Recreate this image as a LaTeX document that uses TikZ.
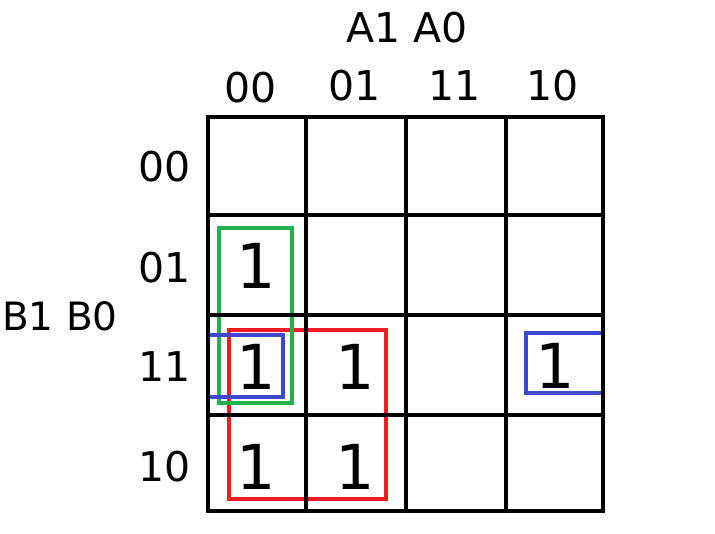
\documentclass[tikz,border=0pt]{standalone}
\usepackage{fontspec}
\setmainfont{DejaVu Sans}
\definecolor{kgreen}{RGB}{34,177,76}
\definecolor{kred}{RGB}{237,28,36}
\definecolor{kblue}{RGB}{63,72,204}
\begin{document}
\begin{tikzpicture}[x=1pt,y=-1pt,
  gridline/.style={line width=4.5pt,black},
  grp/.style={line width=4pt},
  lbl/.style={font=\fontsize{41}{41}\selectfont,inner sep=0pt},
  val/.style={font=\fontsize{62}{62}\selectfont,inner sep=0pt}]
\useasboundingbox (0,0) rectangle (715,534);
% groups
\draw[grp,kred] (229,330) rectangle (386,499);
\draw[grp,kgreen] (219,228) rectangle (292,403);
\draw[grp,kblue] (210,335) -- (283,335) -- (283,397) -- (210,397);
\draw[grp,kblue] (602,333) -- (526,333) -- (526,393) -- (602,393);
% grid
\draw[gridline] (208,117) rectangle (603,511);
\foreach \x in {306,406,506} \draw[gridline] (\x,117) -- (\x,511);
\foreach \y in {215,315,415} \draw[gridline] (208,\y) -- (603,\y);
% labels
\node[lbl] (a) at (407,28) {A1 A0};
\node[lbl,font=\fontsize{39}{39}\selectfont] (b) at (60,316) {B1 B0};
\node[lbl] (c0) at (251,88) {00};
\node[lbl] (c1) at (355,86) {01};
\node[lbl] (c2) at (455,86) {11};
\node[lbl] (c3) at (553,86) {10};
\node[lbl] (r0) at (165,167) {00};
\node[lbl] (r1) at (165,268) {01};
\node[lbl] (r2) at (165,367) {11};
\node[lbl] (r3) at (165,467) {10};
% values
\node[val] (v11) at (256,266) {1};
\node[val] (v21) at (256,367) {1};
\node[val] (v22) at (355,367) {1};
\node[val] (v24) at (555,366) {1};
\node[val] (v31) at (256,467) {1};
\node[val] (v32) at (355,467) {1};
\end{tikzpicture}
\end{document}
